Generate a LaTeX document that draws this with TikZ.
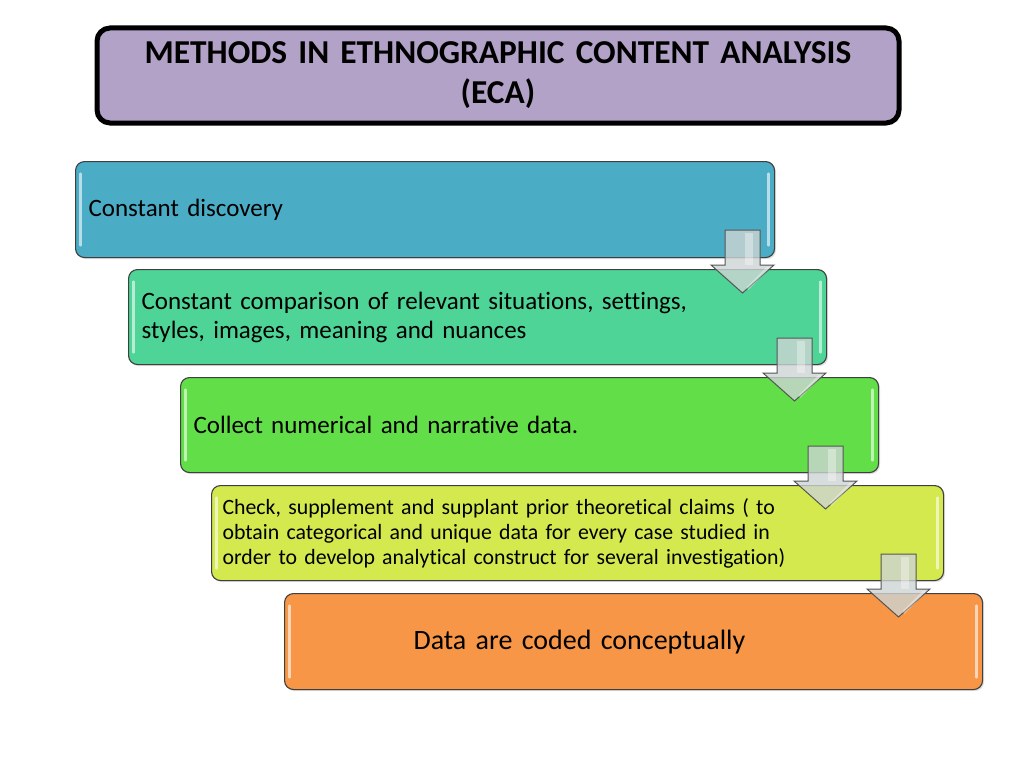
\documentclass[tikz,border=0pt]{standalone}
\usepackage{fontspec}
\setmainfont[Ligatures=NoCommon]{Carlito}
\usetikzlibrary{calc,shadows}
\newcommand\mysize[2]{\fontsize{#1}{#2}\selectfont}
\definecolor{cone}{HTML}{4BACC6}
\definecolor{ctwo}{HTML}{4DD496}
\definecolor{cthree}{HTML}{62DE48}
\definecolor{cfour}{HTML}{D4E94E}
\definecolor{cfive}{HTML}{F79646}
\definecolor{ctitle}{HTML}{B3A2C7}
\definecolor{cedge}{HTML}{3F3F3F}
\definecolor{carrow}{HTML}{CDD4D3}
\definecolor{carrowedge}{HTML}{555555}
\begin{document}
\begin{tikzpicture}[x=1pt,y=-1pt,
  stepbox/.style={draw=cedge, line width=1.1pt, rounded corners=9pt, anchor=north west,
    minimum height=95pt, inner xsep=13pt, align=left, text=black,
    font=\mysize{25}{29},
    drop shadow={shadow xshift=1.5pt, shadow yshift=-1.5pt, opacity=0.25},
    path picture={
      \draw[white, opacity=0.6, line width=2.2pt, line cap=round]
        ($(path picture bounding box.north west)+(5,12)$) -- ($(path picture bounding box.south west)+(5,-12)$);
      \draw[white, opacity=0.6, line width=2.2pt, line cap=round]
        ($(path picture bounding box.north east)+(-6,12)$) -- ($(path picture bounding box.south east)+(-6,-12)$);
    }},
  titlebox/.style={draw=black, line width=5pt, rounded corners=13pt, fill=ctitle, anchor=north west,
    align=center, font=\bfseries\mysize{33.4}{40}, text=black},
  blockarrow/.style={fill=carrow, fill opacity=0.8, draw=carrowedge, line width=1pt, line join=miter},
  shine/.style={fill=white, fill opacity=0.35, draw=none}
]
\useasboundingbox (0,0) rectangle (1024,768);

\node[titlebox, minimum width=802pt, minimum height=95pt, text width=780pt] (title) at (94.5,25.5)
  {METHODS IN ETHNOGRAPHIC CONTENT ANALYSIS\\(ECA)};

\node[stepbox, fill=cone, minimum width=699pt, minimum height=96pt, text width=673pt] (b1) at (75,161)
  {Constant discovery};
\node[stepbox, fill=ctwo, minimum width=698pt, text width=672pt] (b2) at (128,269)
  {Constant comparison of relevant situations, settings,\\styles, images, meaning and nuances};
\node[stepbox, fill=cthree, minimum width=698pt, text width=672pt] (b3) at (180,377)
  {Collect numerical and narrative data.};
\node[stepbox, fill=cfour, minimum width=732pt, text width=710pt, inner xsep=11pt,
  font=\mysize{21.8}{25}] (b4) at (211,485)
  {Check, supplement and supplant prior theoretical claims ( to\\obtain categorical and unique data for every case studied in\\order to develop analytical construct for several investigation)};
\node[stepbox, fill=cfive, minimum width=698pt, minimum height=96pt, text width=672pt,
  font=\mysize{28}{33}] (b5) at (284,593)
  {\hspace*{116pt}Data are coded conceptually};

\foreach \nxt in {b2,b3,b4,b5}{
  \coordinate (tip) at ($(\nxt.north west)+(614.5,24)$);
  \draw[blockarrow] (tip) -- ++(-31.5,-28) -- ++(14,0) -- ++(0,-35) -- ++(35,0) -- ++(0,35)
    -- ++(14,0) -- cycle;
  \fill[shine] ($(tip)+(2,-60)$) rectangle ($(tip)+(10,-28)$);
  \fill[shine] ($(tip)+(4,-6)$) -- ($(tip)+(24,-26)$) -- ($(tip)+(28,-26)$) -- ($(tip)+(6,-3)$) -- cycle;
}
\end{tikzpicture}
\end{document}
